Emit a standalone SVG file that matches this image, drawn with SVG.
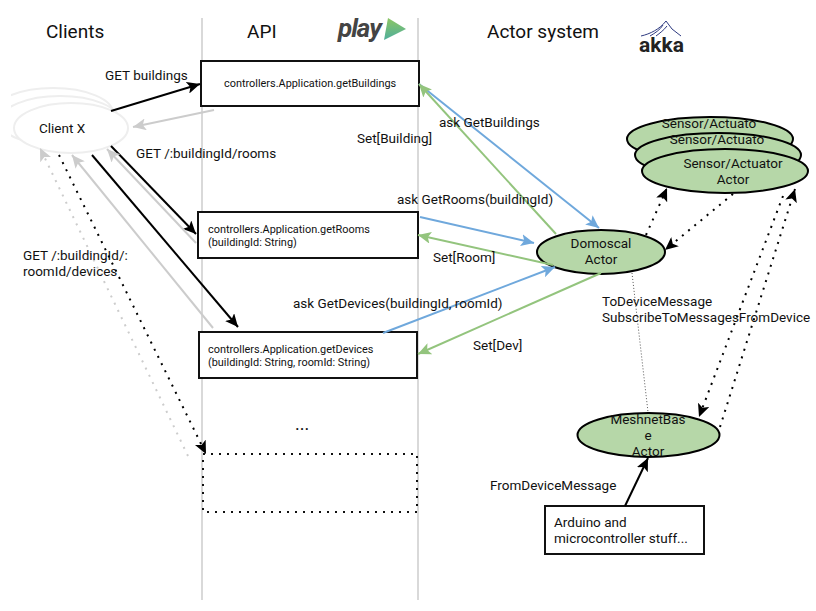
<svg xmlns="http://www.w3.org/2000/svg" width="816" height="611" viewBox="0 0 816 611">
<defs>
<linearGradient id="pg" x1="0" y1="0" x2="0" y2="1"><stop offset="0" stop-color="#8cc664"/><stop offset="1" stop-color="#4fae9c"/></linearGradient>
<clipPath id="cl"><rect x="11" y="80" width="130" height="90"/></clipPath>
<marker id="ak" markerUnits="userSpaceOnUse" markerWidth="14" markerHeight="12" refX="13" refY="6" orient="auto"><path d="M0 0L13 6L0 12L3 6Z" fill="#000"/></marker>
<marker id="ag" markerUnits="userSpaceOnUse" markerWidth="14" markerHeight="12" refX="13" refY="6" orient="auto"><path d="M0 0L13 6L0 12L3 6Z" fill="#ccc"/></marker>
<marker id="ab" markerUnits="userSpaceOnUse" markerWidth="14" markerHeight="12" refX="13" refY="6" orient="auto"><path d="M0 0L13 6L0 12L3 6Z" fill="#6fa8dc"/></marker>
<marker id="an" markerUnits="userSpaceOnUse" markerWidth="14" markerHeight="12" refX="13" refY="6" orient="auto"><path d="M0 0L13 6L0 12L3 6Z" fill="#93c47d"/></marker>
</defs>
<style>
text{font-family:Roboto,"Liberation Sans",sans-serif;fill:#111}
.t{font-size:19px}.l{font-size:13.53px}.s{font-size:10.9px}.m{text-anchor:middle}
.box{fill:#fff;stroke:#111;stroke-width:2}
.act{fill:#b6d7a8;stroke:#000;stroke-width:2}
.cli{fill:#fff;stroke:#eee;stroke-width:2}
.lane{stroke:#d9d9d9;stroke-width:2;fill:none}
.c{fill:none;stroke-width:2}
.k{stroke:#000}.g{stroke:#ccc}.b{stroke:#6fa8dc}.n{stroke:#93c47d}
.d{stroke-dasharray:2 6;stroke-width:2;stroke-linecap:butt}
</style>
<g id="lanes"><path class="lane" d="M202 18V600"/><path class="lane" d="M418 18V600"/></g>
<g id="titles"><text class="t" x="46" y="38">Clients</text><text class="t" x="247" y="38">API</text><text class="t" x="487" y="38">Actor system</text></g>
<g id="play-logo"><text x="338" y="37" font-size="26" font-weight="700" font-style="italic" style="fill:#444;letter-spacing:-1px">play</text><path d="M388 18L406 29L384 40Z" fill="url(#pg)"/></g>
<g id="akka-logo"><path d="M641 36C650 34 660 29 666 21L672 29L681 36M650 36C655 33 660 30 663 25M656 36C660 33 664 30 667 26" fill="none" stroke="#2e3a80" stroke-width="1"/><text x="639" y="52" font-size="21" font-weight="700" style="fill:#222">akka</text></g>
<g id="client-back" clip-path="url(#cl)"><ellipse class="cli" cx="53" cy="113" rx="60" ry="25"/><ellipse class="cli" cx="60" cy="121" rx="60" ry="25"/></g>
<g id="client-x"><ellipse class="cli" cx="71" cy="128" rx="57" ry="25"/><text class="l m" x="62" y="133">Client X</text></g>
<g id="box-getbuildings"><rect class="box" x="201" y="61" width="218" height="45"/><text class="s" x="224" y="87">controllers.Application.getBuildings</text></g>
<g id="box-getrooms"><rect class="box" x="198" y="212" width="220" height="46"/><text class="s" x="208" y="233">controllers.Application.getRooms</text><text class="s" x="208" y="246">(buildingId: String)</text></g>
<g id="box-getdevices"><rect class="box" x="199" y="332" width="218" height="46"/><text class="s" x="208" y="353">controllers.Application.getDevices</text><text class="s" x="208" y="366">(buildingId: String, roomId: String)</text></g>
<g id="box-dotted"><rect x="203" y="454" width="214" height="58" fill="none" stroke="#111" stroke-width="2" stroke-dasharray="2 6"/></g>
<g id="sensor-1"><ellipse class="act" cx="710" cy="139" rx="83" ry="22"/><text class="l m" x="709" y="128">Sensor/Actuato</text></g>
<g id="sensor-2"><ellipse class="act" cx="718" cy="155" rx="83" ry="22"/><text class="l m" x="717" y="144">Sensor/Actuato</text></g>
<g id="sensor-3"><ellipse class="act" cx="725" cy="171" rx="83" ry="22"/><text class="l m" x="733" y="168">Sensor/Actuator</text><text class="l m" x="733" y="184">Actor</text></g>
<g id="domoscal"><ellipse class="act" cx="601" cy="252" rx="64" ry="22"/><text class="l m" x="601" y="248">Domoscal</text><text class="l m" x="601" y="264">Actor</text></g>
<g id="meshnet"><ellipse class="act" cx="648.500" cy="435" rx="71" ry="22"/><text class="l m" x="648" y="424">MeshnetBas</text><text class="l m" x="648" y="440">e</text><text class="l m" x="648" y="456">Actor</text></g>
<g id="arduino"><rect class="box" x="545" y="506" width="159" height="48"/><text class="l" x="554" y="527">Arduino and</text><text class="l" x="554" y="543">microcontroller stuff...</text></g>
<g id="connectors">
<path class="c k" d="M111 111L200 84" marker-end="url(#ak)"/>
<path class="c g" d="M214 110L133 127" marker-end="url(#ag)"/>
<path class="c k" d="M111 146L196 234" marker-end="url(#ak)"/>
<path class="c g" d="M196 243L107 149" marker-end="url(#ag)"/>
<path class="c k" d="M92 155L238 327" marker-end="url(#ak)"/>
<path class="c g" d="M213 328L72 155" marker-end="url(#ag)"/>
<path class="c k d" d="M59 155L206 454" marker-end="url(#ak)"/>
<path class="c g d" d="M188 456L40 148" marker-end="url(#ag)"/>
<path class="c b" d="M419 84L599 228" marker-end="url(#ab)"/>
<path class="c n" d="M556 234L419 84" marker-end="url(#an)"/>
<path class="c b" d="M420 217L534 243" marker-end="url(#ab)"/>
<path class="c n" d="M553 265L418 235" marker-end="url(#an)"/>
<path class="c b" d="M383 333L555 267" marker-end="url(#ab)"/>
<path class="c n" d="M601 273L418 354" marker-end="url(#an)"/>
<path class="c k d" d="M646 235L667 188" marker-end="url(#ak)"/>
<path class="c k d" d="M733 194L665 250" marker-end="url(#ak)"/>
<path class="c k d" d="M720 427L795 189" marker-end="url(#ak)"/>
<path class="c k d" d="M783 196L699 417" marker-end="url(#ak)"/>
<path d="M632 273L648 412" fill="none" stroke="#555" stroke-width="1" stroke-dasharray="1 2"/>
<path class="c k" d="M625 506L648 458" marker-end="url(#ak)"/>
</g>
<g id="labels">
<text class="l" x="105" y="80">GET buildings</text>
<text class="l" x="136" y="158">GET /:buildingId/rooms</text>
<text class="l" x="23" y="260">GET /:buildingId/:</text>
<text class="l" x="23" y="276">roomId/devices</text>
<text class="l" x="357" y="143">Set[Building]</text>
<text class="l" x="439" y="127">ask GetBuildings</text>
<text class="l" x="397" y="204">ask GetRooms(buildingId)</text>
<text class="l" x="433" y="262">Set[Room]</text>
<text class="l" x="293" y="308">ask GetDevices(buildingId, roomId)</text>
<text class="l" x="473" y="350">Set[Dev]</text>
<text class="l" x="602" y="306">ToDeviceMessage</text>
<text class="l" x="602" y="322">SubscribeToMessagesFromDevice</text>
<text class="l" x="490" y="490">FromDeviceMessage</text>
<text x="295" y="430" font-size="18">...</text>
</g>
</svg>
